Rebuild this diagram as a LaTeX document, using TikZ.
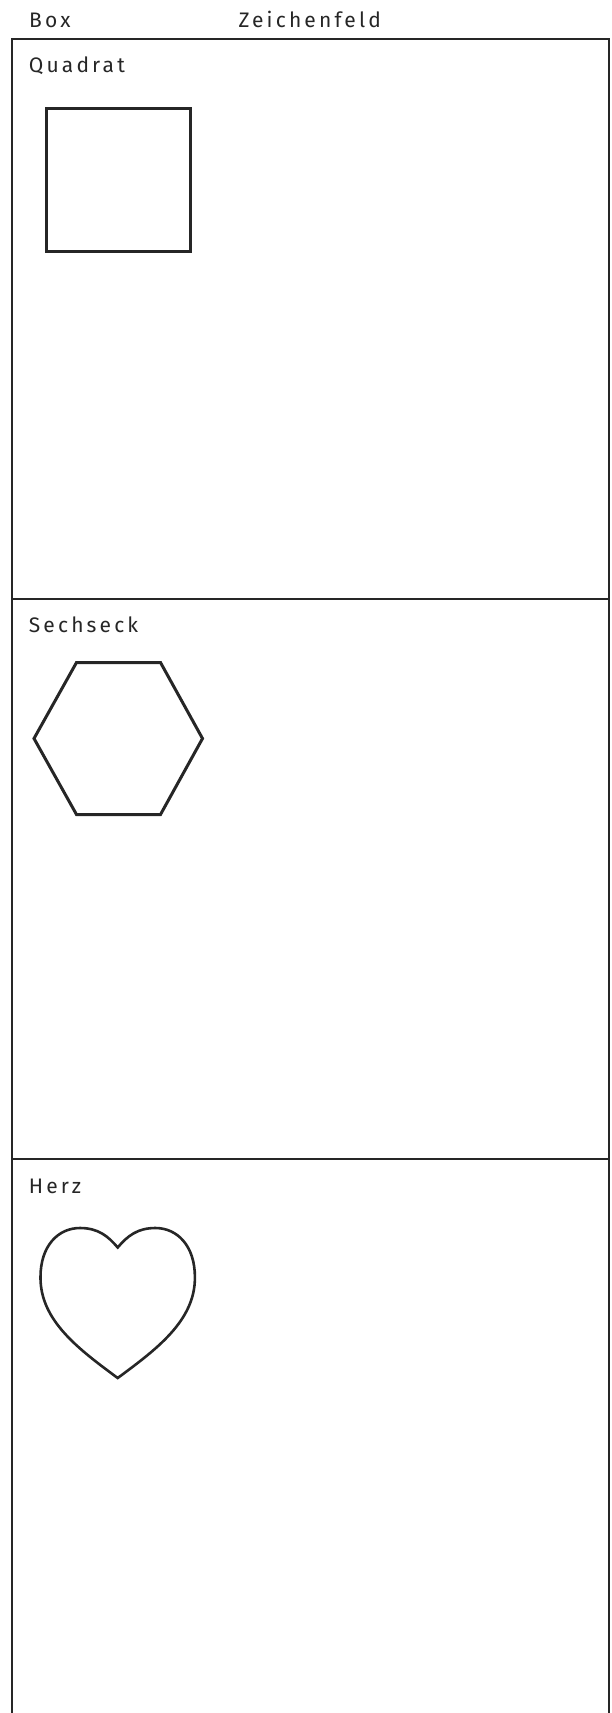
\documentclass[tikz,border=0pt]{standalone}
\usepackage{fontspec}
\setmainfont{Fira Sans}[LetterSpace=15]
\definecolor{ink}{HTML}{262626}
\begin{document}
\begin{tikzpicture}[x=1pt,y=-1pt,
  frame/.style={draw=ink,line width=2.3pt},
  shapeline/.style={draw=ink,line width=3pt,line join=miter},
  heartline/.style={draw=ink,line width=2.6pt,line join=miter},
  lbl/.style={anchor=base west,inner sep=0pt,text=ink,font=\fontsize{21}{25}\selectfont}]
\useasboundingbox (0,0) rectangle (612,1713);
% header labels
\node[lbl] (hbox) at (29,27.3) {Box};
\node[lbl] (hfeld) at (238.3,27.3) {Zeichenfeld};
% frame
\coordinate (tl) at (12.3,39.3);
\coordinate (tm) at (221,39.3);
\coordinate (tr) at (609,39.3);
\coordinate (bl) at (12.3,1720);
\coordinate (br) at (609,1720);
\draw[frame] (tm) -- (tl) -- (bl);
\draw[frame] (tm) -- (tr) -- (br);
\draw[frame] (12.3,599.3) -- (221,599.3) -- (609,599.3);
\draw[frame] (12.3,1159) -- (221,1159) -- (609,1159);
% panel labels
\node[lbl] (lq) at (28.7,72.7) {Quadrat};
\node[lbl] (ls) at (28.7,632.7) {Sechseck};
\node[lbl] (lh) at (28.7,1193) {Herz};
% square
\draw[shapeline] (46.5,108.2) rectangle (190.5,251.5);
% hexagon
\draw[shapeline] (76.5,662.5) -- (160.5,662.5) -- (202.5,738.5) -- (160.5,814.5) -- (76.5,814.5) -- (34,738.5) -- cycle;
% heart
\draw[heartline] (117.7,1378)
  .. controls (80,1350) and (40,1321) .. (40.5,1277)
  .. controls (40.5,1246) and (58,1228) .. (80,1228)
  .. controls (98,1228) and (108,1236) .. (117.7,1247.5)
  .. controls (127.4,1236) and (137.4,1228) .. (155.4,1228)
  .. controls (177.4,1228) and (194.9,1246) .. (194.9,1277)
  .. controls (195.4,1321) and (155.4,1350) .. (117.7,1378) -- cycle;
\end{tikzpicture}
\end{document}
